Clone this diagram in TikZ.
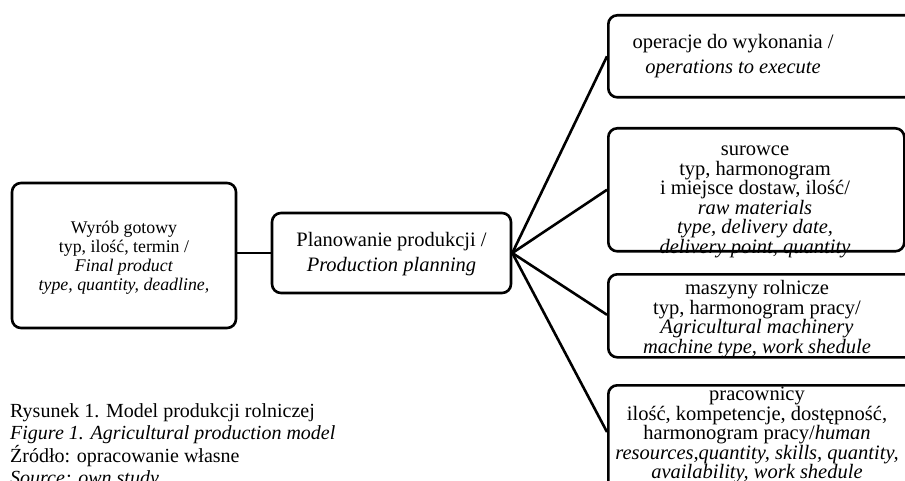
\documentclass[tikz,border=0pt]{standalone}
\usepackage{fontspec}
\setmainfont{Liberation Serif}
\usetikzlibrary{calc}
\begin{document}
\begin{tikzpicture}[x=1pt,y=-1pt,
  box/.style={draw, line width=2.6pt, rounded corners=9pt, inner sep=0pt},
  txt/.style={align=center, font=\fontsize{20.5}{19.5}\selectfont, inner sep=0pt},
  ltxt/.style={align=center, font=\fontsize{17.8}{19}\selectfont, inner sep=0pt},
  conn/.style={line width=2.6pt}]
\useasboundingbox[fill=white] (0,0) rectangle (905,481);
% boxes
\node[box, minimum width=224pt, minimum height=145pt] (L) at (124,255.5) {};
\node[ltxt] (Lt) at (124,258) {Wyrób gotowy\\typ, ilość, termin /\\\textit{Final product}\\\textit{type, quantity, deadline,}};
\node[box, minimum width=239pt, minimum height=80pt] (C) at (391.5,253) {};
\node[txt] (Ct) at (391.5,254) {Planowanie produkcji /\\[5pt]\textit{Production planning}};
\node[box, minimum width=310pt, minimum height=82pt, anchor=north west] (R1) at (607,14) {};
\node[txt] (R1t) at (733,56) {operacje do wykonania /\\[5pt]\textit{operations to execute}};
\node[box, minimum width=296pt, minimum height=123pt, anchor=north west] (R2) at (607,127) {};
\node[txt] (R2t) at (755,202) {surowce\\typ, harmonogram\\i miejsce dostaw, ilość/\\\textit{raw materials}\\\textit{type, delivery date,}\\\textit{delivery point, quantity}};
\node[box, minimum width=310pt, minimum height=83pt, anchor=north west] (R3) at (607,273) {};
\node[txt] (R3t) at (757,319) {maszyny rolnicze\\typ, harmonogram pracy/\\\textit{Agricultural machinery}\\\textit{machine type, work shedule}};
\node[box, minimum width=310pt, minimum height=120pt, anchor=north west] (R4) at (607,384) {};
\node[txt] (R4t) at (757,435) {pracownicy\\ilość, kompetencje, dostępność,\\harmonogram pracy/\textit{human}\\\textit{resources,quantity, skills, quantity,}\\\textit{availability, work shedule}};
% caption
\node[align=left, anchor=north west, inner sep=0pt, font=\fontsize{20}{22.5}\selectfont] (cap) at (10,403)
  {Rysunek 1. Model produkcji rolniczej\\\textit{Figure 1. Agricultural production model}\\Źródło: opracowanie własne\\\textit{Source: own study}};
% connectors
\draw[conn] (C.west) -- (C.west -| L.east);
\coordinate (J) at (C.east);
\draw[conn] (J) -- (R1.west);
\draw[conn] (J) -- (R2.west);
\draw[conn] (J) -- ($(R3.west)+(0,-1)$);
\draw[conn] (J) -- ($(R4.north west)+(0,48)$);
\end{tikzpicture}
\end{document}
